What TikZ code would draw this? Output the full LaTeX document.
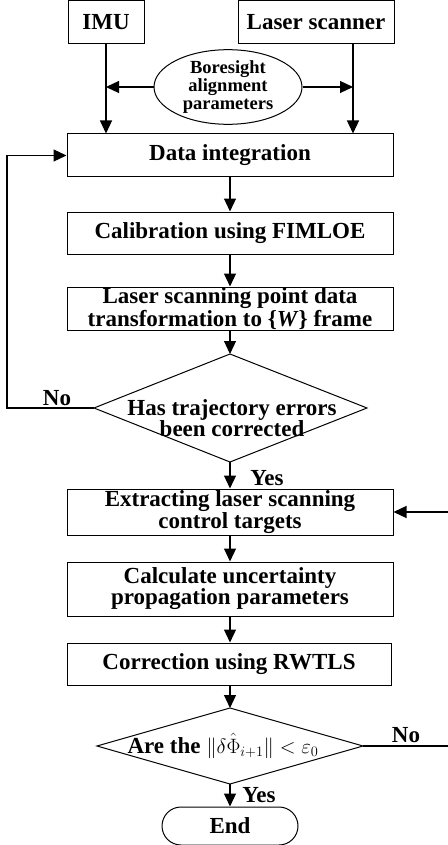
\documentclass[tikz,border=0pt]{standalone}
\usepackage{fontspec}
\setmainfont{Liberation Serif}
\usetikzlibrary{arrows.meta,shapes.geometric}
\begin{document}
\begin{tikzpicture}[x=1pt,y=-1pt,
  txt/.style={font=\bfseries\fontsize{23}{21}\selectfont},
  box/.style={draw,line width=1pt,minimum width=326pt,inner sep=0pt,align=center,txt},
  arr/.style={line width=1.2pt,-{Triangle[length=13pt,width=12pt]}},
  lab/.style={txt,inner sep=0pt},
  outline/.style={line width=1pt}]
\useasboundingbox (0,0) rectangle (447,845);
% top boxes
\node[box,minimum width=76pt,minimum height=43pt] (imu) at (106,22.5) {IMU};
\node[box,minimum width=156pt,minimum height=43pt] (ls) at (316,22.5) {Laser scanner};
\node[draw,ellipse,line width=1pt,minimum width=148pt,minimum height=64pt,inner sep=0pt,align=center,font=\bfseries\fontsize{18.5}{18}\selectfont] (ell) at (228,87) {Boresight\\alignment\\parameters};
\coordinate (c353) at (353,0);
% process boxes
\node[box,minimum height=43pt] (di) at (230,155.5) {Data integration};
\node[box,minimum height=42pt] (cal) at (230,233) {Calibration using FIMLOE};
\node[box,minimum height=43pt] (tr) at (230,308.5) {Laser scanning point data\\transformation to \{\textit{W}\} frame};
% decision 1
\coordinate (d1t) at (230,354);
\coordinate (d1b) at (230,462);
\coordinate (d1l) at (94,408);
\coordinate (d1r) at (367,408);
\draw[outline] (d1t) -- (d1r) -- (d1b) -- (d1l) -- cycle;
\node[lab,align=center] (q1) at (232,418) {Has trajectory errors\\been corrected};
\node[box,minimum height=46pt] (ex) at (230,512) {Extracting laser scanning\\control targets};
\node[box,minimum height=54pt] (cu) at (230,589) {Calculate uncertainty\\propagation parameters};
\node[box,minimum width=324pt,minimum height=42pt] (co) at (229,664) {Correction using RWTLS};
% decision 2
\coordinate (d2t) at (230,708);
\coordinate (d2b) at (230,784);
\coordinate (d2l) at (97,746);
\coordinate (d2r) at (363,746);
\draw[outline] (d2t) -- (d2r) -- (d2b) -- (d2l) -- cycle;
\node[lab] (q2) at (223,746) {Are the {\mdseries\fontsize{20}{20}\selectfont$\Big\|\delta\hat{\Phi}_{i+1}\Big\|<\varepsilon_0$}};
\node[draw,line width=1pt,rounded corners=19pt,minimum width=136pt,minimum height=38pt,txt] (end) at (230,826) {End};
% labels
\node[lab] (no1) at (57,398) {No};
\node[lab] (yes1) at (267,478) {Yes};
\node[lab] (no2) at (406,735) {No};
\node[lab] (yes2) at (259,795) {Yes};
% connectors
\draw[arr] (imu.south) -- (imu.south |- di.north);
\draw[arr] (ls.south -| c353) -- (c353 |- di.north);
\draw[arr] (ell.west) -- (ell.west -| imu.south);
\draw[arr] (ell.east) -- (ell.east -| c353);
\draw[arr] (di.south) -- (cal.north);
\draw[arr] (cal.south) -- (tr.north);
\draw[arr] (tr.south) -- (d1t);
\draw[arr] (d1b) -- (ex.north);
\draw[arr] (ex.south) -- (cu.north);
\draw[arr] (cu.south) -- (co.north -| cu.south);
\draw[arr] (co.south -| d2t) -- (d2t);
\draw[arr] (d2b) -- (end.north);
\coordinate (lx) at (7,0);
\coordinate (rx) at (449,0);
\draw[arr] (d1l) -- (d1l -| lx) -- (lx |- di.west) -- (di.west);
\draw[arr] (d2r) -- (d2r -| rx) -- (rx |- ex.east) -- (ex.east);
\end{tikzpicture}
\end{document}
